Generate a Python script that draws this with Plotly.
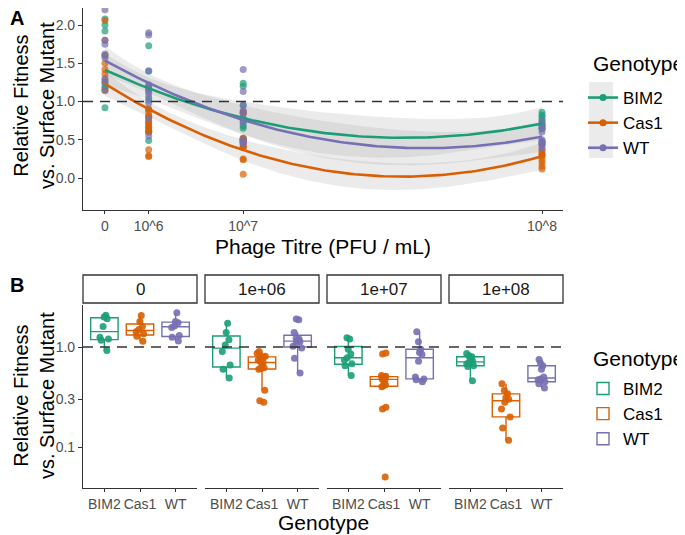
import numpy as np
import plotly.graph_objects as go

# phage titres and labels
titres = [0, 1e6, 1e7, 1e8]
titre_ticks = ["0", "10^6", "10^7", "10^8"]
facet_labels = ["0", "1e+06", "1e+07", "1e+08"]
genotypes = ["BIM2", "Cas1", "WT"]
colours = ["#1B9E77", "#D95F02", "#7570B3"]

# relative fitness values, one list per titre (0, 1e6, 1e7, 1e8)
bim2 = [
    [2.08, 2.0, 1.92, 1.6, 1.25, 1.2, 1.17, 0.92],
    [1.73, 1.4, 1.18, 1.05, 0.9, 0.66, 0.6, 0.49],
    [1.24, 1.2, 0.95, 0.85, 0.78, 0.74, 0.68, 0.65, 0.52],
    [0.86, 0.82, 0.8, 0.76, 0.72, 0.7, 0.68, 0.65, 0.64, 0.46],
]
cas1 = [
    [2.06, 1.8, 1.6, 1.5, 1.42, 1.36, 1.28, 1.14],
    [0.9, 0.86, 0.81, 0.8, 0.79, 0.74, 0.72, 0.7, 0.66, 0.62, 0.61, 0.6,
     0.37, 0.29, 0.28],
    [0.87, 0.85, 0.52, 0.51, 0.5, 0.5, 0.49, 0.48, 0.47, 0.45, 0.42, 0.41,
     0.4, 0.25, 0.24, 0.05],
    [0.43, 0.37, 0.34, 0.31, 0.3, 0.28, 0.24, 0.2, 0.155, 0.117],
]
wt = [
    [2.2, 1.8, 1.75, 1.62, 1.57, 1.3, 1.25, 1.15],
    [1.9, 1.87, 1.4, 1.22, 1.2, 1.16, 1.13, 1.1, 1.02, 0.98, 0.77, 0.55],
    [1.42, 1.13, 0.95, 0.88, 0.84, 0.72, 0.5, 0.48, 0.47, 0.45],
    [0.75, 0.69, 0.65, 0.6, 0.5, 0.48, 0.47, 0.45, 0.43, 0.39],
]
data = [bim2, cas1, wt]

# the page body adds an 8px margin, so the figure is 8px smaller each way
OFF = 8
W, H = 685 - OFF, 535 - OFF
FONT = "Liberation Sans, Arial, sans-serif"
GREY = "#4d4d4d"
AXIS = "#333333"


def px_x(p):
    return (p - OFF) / W


def px_y(p):
    return 1 - (p - OFF) / H


def quad_fit(xs, ys, grid):
    # lm(y ~ poly(x, 2)) on the sqrt scale, with 95% band
    X = np.column_stack([np.ones_like(xs), xs, xs**2])
    beta, *_ = np.linalg.lstsq(X, ys, rcond=None)
    resid = ys - X @ beta
    sigma2 = resid @ resid / (len(ys) - 3)
    cov = sigma2 * np.linalg.inv(X.T @ X)
    G = np.column_stack([np.ones_like(grid), grid, grid**2])
    fit = G @ beta
    se = np.sqrt(np.einsum("ij,jk,ik->i", G, cov, G))
    return fit, se


fig = go.Figure()
grid = np.linspace(0, np.sqrt(titres[-1]), 120)

# --- panel A: ribbons, points, smooth lines
fits = []
for g, vals in zip(genotypes, data):
    xs = np.concatenate([[np.sqrt(t)] * len(v) for t, v in zip(titres, vals)])
    ys = np.concatenate(vals)
    fit, se = quad_fit(xs / 1000, ys, grid / 1000)
    fits.append(fit)
    lo, hi = fit - 2.03 * se, fit + 2.03 * se
    fig.add_trace(go.Scatter(
        x=np.concatenate([grid, grid[::-1]]), y=np.concatenate([hi, lo[::-1]]),
        fill="toself", fillcolor="rgba(153,153,153,0.2)", line=dict(width=0),
        mode="lines", showlegend=False, hoverinfo="skip", xaxis="x", yaxis="y"))

for g, vals, c in zip(genotypes, data, colours):
    xs = np.concatenate([[np.sqrt(t)] * len(v) for t, v in zip(titres, vals)])
    ys = np.concatenate(vals)
    fig.add_trace(go.Scatter(
        x=xs, y=ys, mode="markers", marker=dict(size=7, color=c, opacity=0.7),
        cliponaxis=False, showlegend=False, xaxis="x", yaxis="y"))

for g, fit, c in zip(genotypes, fits, colours):
    fig.add_trace(go.Scatter(
        x=grid, y=fit, mode="lines", line=dict(color=c, width=2.6),
        showlegend=False, xaxis="x", yaxis="y"))
    # legend entry (line + point)
    fig.add_trace(go.Scatter(
        x=[None], y=[None], mode="lines+markers", name=g,
        line=dict(color=c, width=2.6), marker=dict(size=7, color=c),
        legend="legend", xaxis="x", yaxis="y"))

# --- panel B: faceted boxplots on log scale
for j in range(4):
    ax = j + 2
    for g, vals, c in zip(genotypes, data, colours):
        # box with 1.5 IQR whiskers, its own outlier dots hidden
        fig.add_trace(go.Box(
            x=[g] * len(vals[j]), y=vals[j], name=g,
            boxpoints="outliers", marker=dict(size=7, color="rgba(0,0,0,0)"),
            line=dict(color=c, width=1.4), fillcolor="rgba(255,255,255,0)",
            whiskerwidth=0, showlegend=(j == 0), legend="legend2",
            xaxis=f"x{ax}", yaxis=f"y{ax}"))
        # jittered points on top
        fig.add_trace(go.Box(
            x=[g] * len(vals[j]), y=vals[j], name=g,
            boxpoints="all", jitter=0.4, pointpos=0,
            marker=dict(size=7, color=c, opacity=0.9),
            line=dict(color="rgba(0,0,0,0)", width=0),
            fillcolor="rgba(255,255,255,0)", showlegend=False,
            xaxis=f"x{ax}", yaxis=f"y{ax}"))

# facet domains in pixels
facet_px = [(83, 197), (205, 319), (327, 441), (449, 563)]

layout = dict(
    width=W, height=H, margin=dict(l=0, r=0, t=0, b=0),
    paper_bgcolor="white", plot_bgcolor="white",
    font=dict(family=FONT, color="black"),
    boxmode="overlay", boxgap=0.23, boxgroupgap=0,
    xaxis=dict(domain=[px_x(83), px_x(563)], range=[-503, 10480],
               tickvals=list(np.sqrt(titres)), ticktext=titre_ticks,
               showline=True, linecolor=AXIS, linewidth=1.2, ticks="outside",
               ticklen=3, tickcolor=AXIS, tickfont=dict(size=14, color=GREY),
               showgrid=False, zeroline=False, anchor="y", automargin=False),
    yaxis=dict(domain=[px_y(210), 1], range=[-0.418, (178 - OFF) / 76.5],
               tickvals=[0, 0.5, 1.0, 1.5, 2.0],
               ticktext=["0.0", "0.5", "1.0", "1.5", "2.0"],
               showline=True, linecolor=AXIS, linewidth=1.2, ticks="outside",
               ticklen=4, tickcolor=AXIS, tickfont=dict(size=14, color=GREY),
               showgrid=False, zeroline=False, anchor="x", automargin=False),
    legend=dict(x=px_x(583), y=px_y(80), xanchor="left", yanchor="top",
                font=dict(size=17), bgcolor="rgba(0,0,0,0)", tracegroupgap=0),
    legend2=dict(x=px_x(583), y=px_y(371), xanchor="left", yanchor="top",
                 font=dict(size=17), bgcolor="rgba(0,0,0,0)", tracegroupgap=0),
)

shapes = []
annotations = []

for j, (a, b) in enumerate(facet_px):
    ax = j + 2
    layout[f"xaxis{ax}"] = dict(
        domain=[px_x(a), px_x(b)], type="category", categoryorder="array",
        categoryarray=genotypes, range=[-0.6, 2.6], showline=True,
        linecolor=AXIS, linewidth=1.2, ticks="outside", ticklen=3,
        tickcolor=AXIS, tickfont=dict(size=14, color=GREY), showgrid=False,
        zeroline=False, anchor=f"y{ax}", automargin=False)
    yax = dict(domain=[px_y(488), px_y(305)], type="log", range=[-1.41, 0.42],
               tickvals=[0.1, 0.3, 1.0], ticktext=["0.1", "0.3", "1.0"],
               showgrid=False, zeroline=False, anchor=f"x{ax}", automargin=False)
    if j == 0:
        yax.update(showline=True, linecolor=AXIS, linewidth=1.2, ticks="outside",
                   ticklen=4, tickcolor=AXIS, tickfont=dict(size=14, color=GREY))
    else:
        yax.update(matches="y2", showticklabels=False, showline=False, ticks="")
    layout[f"yaxis{ax}"] = yax

    # dashed reference line and strip
    shapes.append(dict(type="line", xref=f"x{ax} domain", yref=f"y{ax}",
                       x0=0, x1=1, y0=1, y1=1,
                       line=dict(color=AXIS, width=1.3, dash="10px,7px")))
    shapes.append(dict(type="rect", xref=f"x{ax} domain", yref="paper",
                       x0=0, x1=1, y0=px_y(303), y1=px_y(275),
                       line=dict(color=AXIS, width=1.3), fillcolor="white"))
    annotations.append(dict(text=facet_labels[j], xref=f"x{ax} domain", yref="paper",
                            x=0.5, y=px_y(289), xanchor="center", yanchor="middle",
                            showarrow=False, font=dict(size=17, color="#1a1a1a")))

shapes.append(dict(type="line", xref="x domain", yref="y", x0=0, x1=1, y0=1, y1=1,
                   line=dict(color=AXIS, width=1.3, dash="10px,7px")))
# grey key background of legend A
shapes.append(dict(type="rect", xref="paper", yref="paper", layer="below",
                   x0=px_x(589), x1=px_x(613), y0=px_y(158), y1=px_y(82),
                   line=dict(width=0), fillcolor="#ebebeb"))


def label(text, x, y, size=21, angle=0, anchor="center"):
    return dict(text=text, xref="paper", yref="paper", x=px_x(x), y=px_y(y),
                xanchor=anchor, yanchor="middle", textangle=angle,
                showarrow=False, font=dict(size=size, color="black"))


ytitle = "Relative Fitness<br>vs. Surface Mutant"
annotations += [
    label("<b>A</b>", 17, 18, size=20),
    label("<b>B</b>", 17, 285, size=20),
    label(ytitle, 34, 106, size=20, angle=-90),
    label(ytitle, 34, 396, size=20, angle=-90),
    label("Phage Titre (PFU / mL)", 323, 246),
    label("Genotype", 323, 522),
    label("Genotype", 591, 63, anchor="left"),
    label("Genotype", 591, 358, anchor="left"),
]

layout["shapes"] = shapes
layout["annotations"] = annotations
fig.update_layout(**layout)

fig.write_html("out.html")
